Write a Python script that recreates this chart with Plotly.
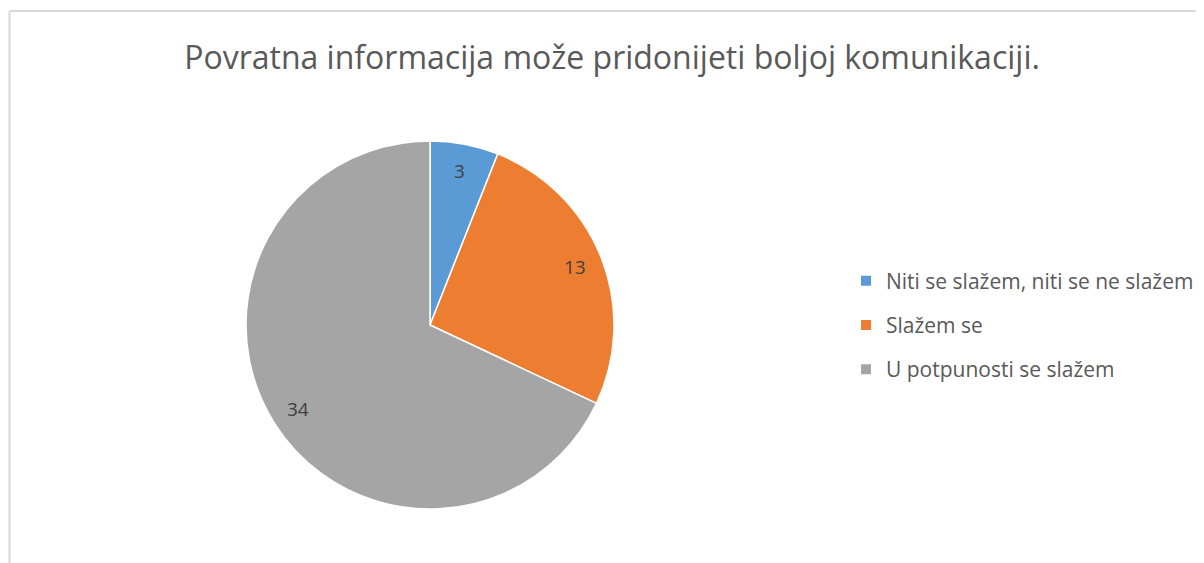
import math
import plotly.graph_objects as go

categories = ["Niti se slažem, niti se ne slažem", "Slažem se", "U potpunosti se slažem"]
values = [3, 13, 34]
colors = ["#5B9BD5", "#ED7D31", "#A5A5A5"]
title_text = "Povratna informacija može pridonijeti boljoj komunikaciji."

# page is rendered with an 8px body margin, so the figure is offset by 8px
OFF = 8
W, H = 1196, 555
FONT = "Open Sans"


def px(x):
    return (x - OFF) / W


def py(y):
    return 1 - (y - OFF) / H


# pie geometry (page pixels)
CX, CY, R = 430, 325, 184

fig = go.Figure()
fig.add_trace(go.Pie(
    labels=categories, values=values, sort=False, direction="clockwise", rotation=0,
    marker=dict(colors=colors, line=dict(color="white", width=1.5)),
    textinfo="none",
    domain=dict(x=[px(CX - R), px(CX + R)], y=[py(CY + R), py(CY - R)]),
    showlegend=False, hoverinfo="label+value",
))
for i, (cat, col) in enumerate(zip(categories, colors)):
    fig.add_trace(go.Scatter(
        x=[None], y=[None], mode="markers", name=cat, legendgroup=f"g{i}",
        marker=dict(symbol="square", size=10, color=col),
    ))

# data labels placed along each slice's mid angle (derived from the values)
total = sum(values)
annotations = []
cum = 0
for v in values:
    mid = (cum + v / 2) / total * 2 * math.pi
    cum += v
    lx = CX + 0.85 * R * math.sin(mid)
    ly = CY - 0.85 * R * math.cos(mid)
    annotations.append(dict(
        x=px(lx), y=py(ly), xref="paper", yref="paper", text=str(v), showarrow=False,
        xanchor="center", yanchor="middle",
        font=dict(family=FONT, size=19, color="#404040"),
    ))

fig.update_layout(
    width=W, height=H,
    margin=dict(l=0, r=0, t=0, b=0),
    paper_bgcolor="white", plot_bgcolor="white",
    xaxis=dict(visible=False), yaxis=dict(visible=False),
    title=dict(text=title_text, x=px(612), xanchor="center", y=py(58), yanchor="middle",
               font=dict(family=FONT, size=32, color="#595959")),
    legend=dict(x=px(846), xanchor="left", y=py(325), yanchor="middle",
                font=dict(family=FONT, size=21, color="#595959"),
                tracegroupgap=14, bgcolor="rgba(0,0,0,0)"),
    annotations=annotations,
    shapes=[
        dict(type="line", xref="paper", yref="paper", x0=px(9.5), x1=px(9.5), y0=0, y1=py(11),
             line=dict(color="#D9D9D9", width=2)),
        dict(type="line", xref="paper", yref="paper", x0=px(9.5), x1=1, y0=py(11), y1=py(11),
             line=dict(color="#D9D9D9", width=2)),
    ],
)
fig.write_html("out.html")
